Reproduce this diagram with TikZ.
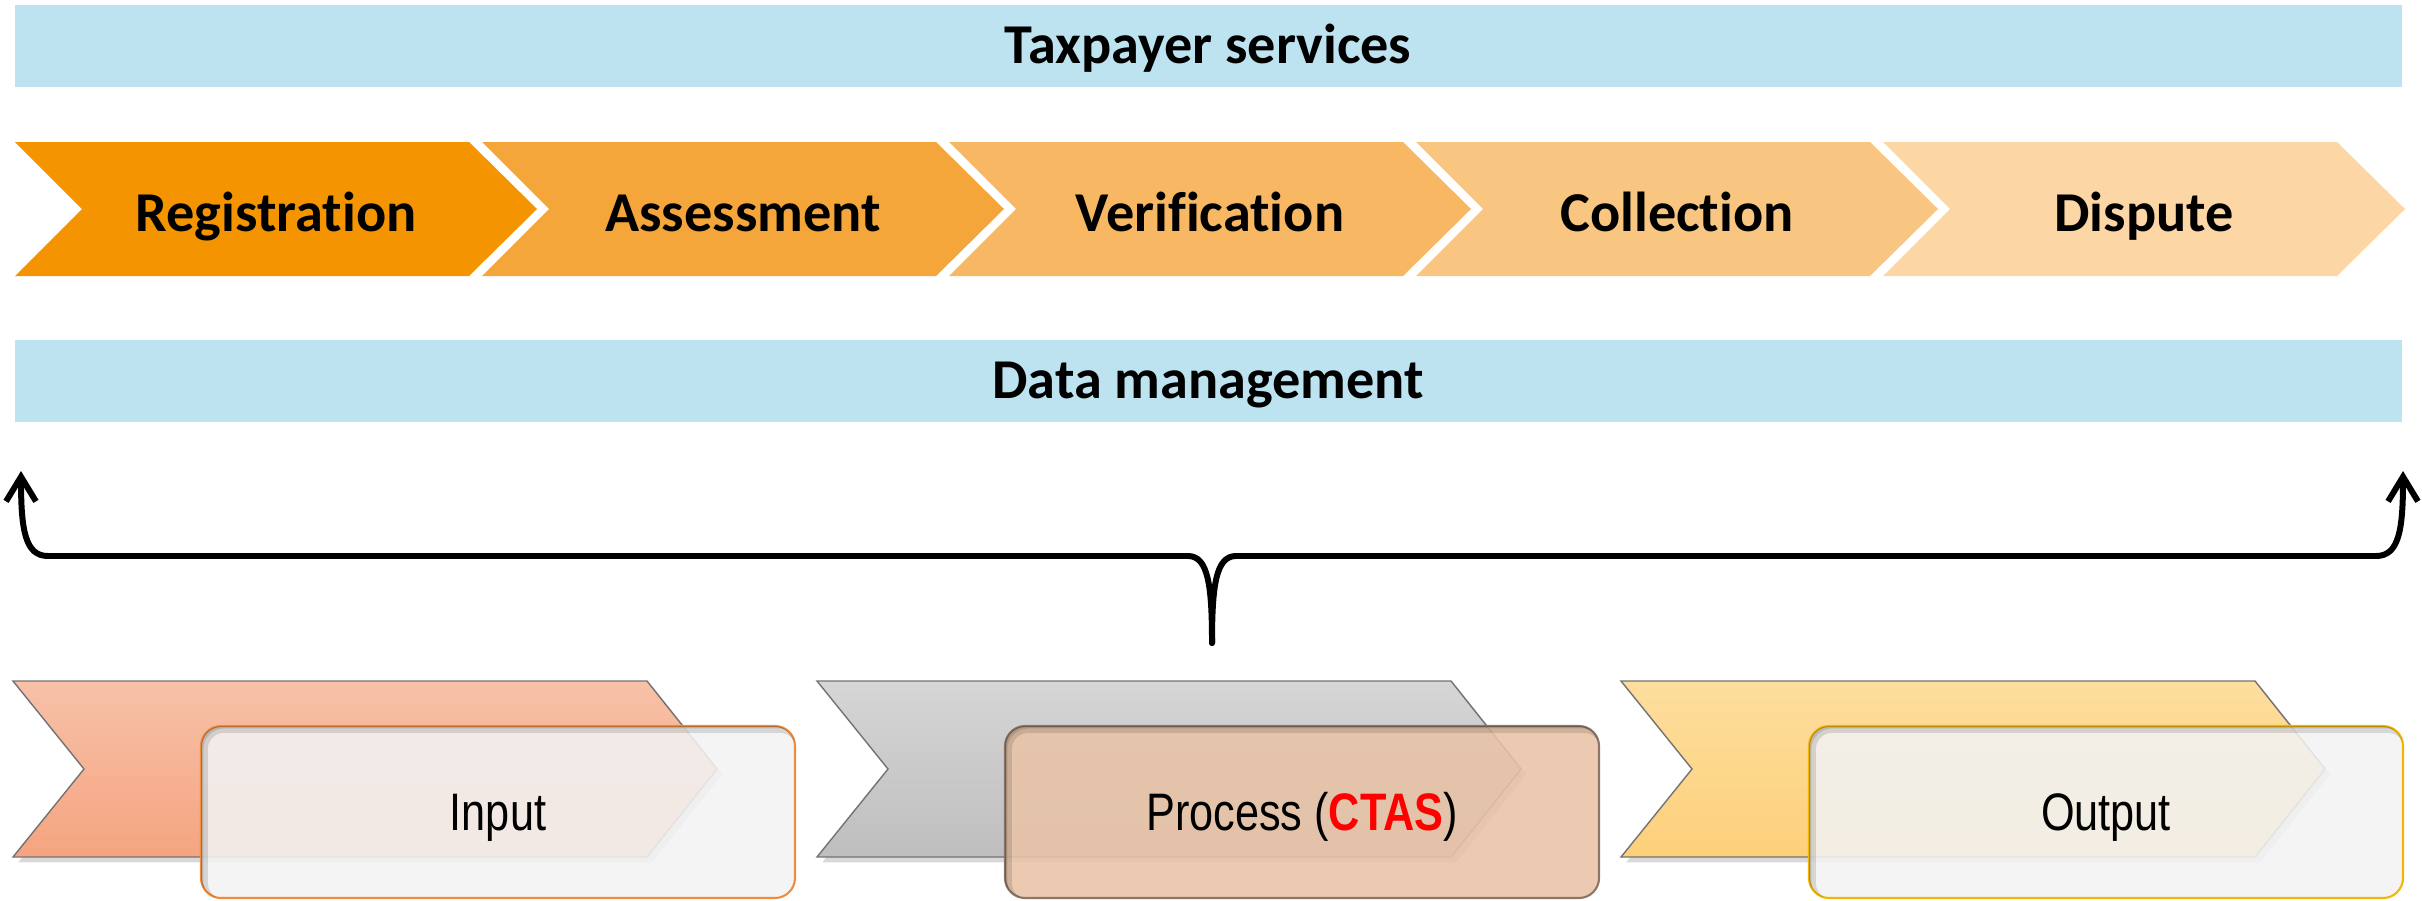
\documentclass[tikz,border=0pt]{standalone}
\usepackage{fontspec}
\usepackage{tikz}
\usetikzlibrary{arrows.meta,shadows}
\newfontfamily\calfont[Ligatures=NoCommon]{Carlito}
\newfontfamily\narrowfont[FakeStretch=0.82]{Liberation Sans}
\definecolor{barblue}{RGB}{189,227,240}
\definecolor{stepA}{RGB}{243,148,0}
\definecolor{stepB}{RGB}{245,166,58}
\definecolor{stepC}{RGB}{247,183,99}
\definecolor{stepD}{RGB}{249,198,129}
\definecolor{stepE}{RGB}{252,214,164}
\definecolor{inputtop}{RGB}{247,193,168}
\definecolor{inputbot}{RGB}{245,164,128}
\definecolor{proctop}{RGB}{214,214,214}
\definecolor{procbot}{RGB}{190,190,190}
\definecolor{outtop}{RGB}{253,222,158}
\definecolor{outbot}{RGB}{253,208,122}
\definecolor{cardgray}{RGB}{242,242,242}
\definecolor{cardtan}{RGB}{232,195,166}
\definecolor{inputedge}{RGB}{240,140,60}
\definecolor{procedge}{RGB}{140,118,105}
\definecolor{outedge}{RGB}{242,183,5}

\begin{document}
\begin{tikzpicture}[x=0.01cm,y=-0.01cm]
\tikzstyle{every node}+=[inner sep=0pt]
\tikzstyle{bluebar}=[fill=barblue]
\tikzstyle{steplabel}=[font=\calfont\bfseries\fontsize{16}{19}\selectfont]
\tikzstyle{phase}=[draw=black!55, line width=0.4pt, drop shadow={shadow xshift=1.5pt, shadow yshift=-1.5pt, opacity=0.3}]
\tikzstyle{card}=[rounded corners=0.2cm, line width=0.6pt, fill opacity=0.88]
\tikzstyle{innershade}=[black, rounded corners=0.25cm, opacity=0.12]
\tikzstyle{cardlabel}=[font=\narrowfont\fontsize{15}{18}\selectfont]
\tikzstyle{flow}=[line width=1.7pt, line cap=round, line join=round, -{Straight Barb[length=7pt,width=8.5pt]}]
\useasboundingbox (0,0) rectangle (2422,900);
% service bars
\fill [bluebar] (15,5) rectangle (2402,87);
\node [steplabel, anchor=base] (services) at (1208,63) {Taxpayer services};
\fill [bluebar] (15,340) rectangle (2402,422);
\node [steplabel, anchor=base] (datamgmt) at (1208,398) {Data management};
% process steps
\fill [stepA] (15,142) -- (469,142) -- (537,209) -- (469,276) -- (15,276) -- (82,209) -- cycle;
\node [steplabel, anchor=base] (registration) at (276,231) {Registration};
\fill [stepB] (482,142) -- (936,142) -- (1004,209) -- (936,276) -- (482,276) -- (549,209) -- cycle;
\node [steplabel, anchor=base] (assessment) at (743,231) {Assessment};
\fill [stepC] (949,142) -- (1403,142) -- (1471,209) -- (1403,276) -- (949,276) -- (1016,209) -- cycle;
\node [steplabel, anchor=base] (verification) at (1210,231) {Verification};
\fill [stepD] (1416,142) -- (1870,142) -- (1938,209) -- (1870,276) -- (1416,276) -- (1483,209) -- cycle;
\node [steplabel, anchor=base] (collection) at (1677,231) {Collection};
\fill [stepE] (1883,142) -- (2337,142) -- (2405,209) -- (2337,276) -- (1883,276) -- (1950,209) -- cycle;
\node [steplabel, anchor=base] (dispute) at (2144,231) {Dispute};
% brace arrows
\coordinate (root) at (1212,643);
\coordinate (lefttip) at (21,471);
\coordinate (righttip) at (2403,471);
\draw [flow] (root) .. controls (1212,585) and (1208,556) .. (1188,556) -- (48,556) .. controls (25,556) and (21,530) .. (lefttip);
\draw [flow] (root) .. controls (1212,585) and (1216,556) .. (1236,556) -- (2376,556) .. controls (2399,556) and (2403,530) .. (righttip);
% input
\draw [phase, top color=inputtop, bottom color=inputbot] (13,681) -- (647,681) -- (717,769) -- (647,857) -- (13,857) -- (84,769) -- cycle;
\draw [card, draw=inputedge, fill=cardgray] (201,726) rectangle (795,898);
\begin{scope}
\clip [rounded corners=0.2cm] (201,726) rectangle (795,898);
\draw [innershade, line width=5pt] (199,724) rectangle (805,908);
\draw [innershade, line width=2.5pt] (199,724) rectangle (805,908);
\end{scope}
\node [cardlabel, anchor=base] (input) at (498,830) {Input};
% process
\draw [phase, top color=proctop, bottom color=procbot] (817,681) -- (1451,681) -- (1521,769) -- (1451,857) -- (817,857) -- (888,769) -- cycle;
\draw [card, draw=procedge, fill=cardtan] (1005,726) rectangle (1599,898);
\begin{scope}
\clip [rounded corners=0.2cm] (1005,726) rectangle (1599,898);
\draw [innershade, line width=5pt] (1003,724) rectangle (1609,908);
\draw [innershade, line width=2.5pt] (1003,724) rectangle (1609,908);
\end{scope}
\node [cardlabel, anchor=base] (process) at (1302,830) {Process ({\bfseries\color{red}CTAS})};
% output
\draw [phase, top color=outtop, bottom color=outbot] (1621,681) -- (2255,681) -- (2325,769) -- (2255,857) -- (1621,857) -- (1692,769) -- cycle;
\draw [card, draw=outedge, fill=cardgray] (1809,726) rectangle (2403,898);
\begin{scope}
\clip [rounded corners=0.2cm] (1809,726) rectangle (2403,898);
\draw [innershade, line width=5pt] (1807,724) rectangle (2413,908);
\draw [innershade, line width=2.5pt] (1807,724) rectangle (2413,908);
\end{scope}
\node [cardlabel, anchor=base] (output) at (2106,830) {Output};
\end{tikzpicture}
\end{document}
